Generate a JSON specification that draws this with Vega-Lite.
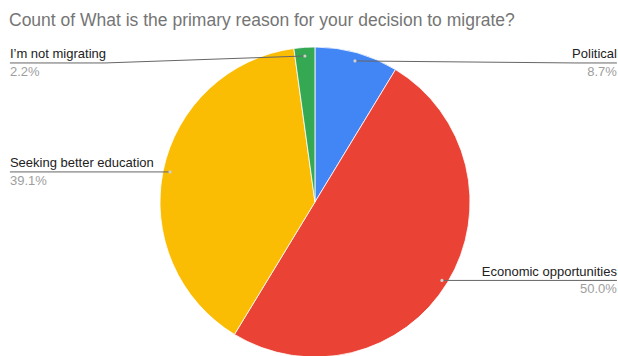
{
  "$schema": "https://vega.github.io/schema/vega-lite/v6.json",
  "width": 618,
  "height": 321,
  "autosize": {"type": "none"},
  "padding": {"top": 35, "left": 0, "right": 0, "bottom": 0},
  "background": "white",
  "config": {"view": {"stroke": null}, "font": "Liberation Sans"},
  "title": {
    "text": "Count of What is the primary reason for your decision to migrate?",
    "anchor": "start",
    "frame": "group",
    "dx": 9,
    "offset": 6,
    "fontSize": 17.5,
    "fontWeight": "normal",
    "color": "#757575",
    "font": "Liberation Sans"
  },
  "datasets": {
    "slices": [
      {"reason": "Political", "count": 4, "o": 1},
      {"reason": "Economic opportunities", "count": 23, "o": 2},
      {"reason": "Seeking better education", "count": 18, "o": 3},
      {"reason": "I’m not migrating", "count": 1, "o": 4}
    ],
    "labels": [
      {"reason": "Political", "pct": "8.7%", "side": "right", "tx": 1.948, "ty": 0.897, "ex": 1.677, "mx": 0.258, "my": 0.91},
      {"reason": "Economic opportunities", "pct": "50.0%", "side": "right", "tx": 1.948, "ty": -0.506, "ex": 0.819, "mx": 0.819, "my": -0.506},
      {"reason": "Seeking better education", "pct": "39.1%", "side": "left", "tx": -1.968, "ty": 0.194, "ex": -0.935, "mx": -0.935, "my": 0.194},
      {"reason": "I’m not migrating", "pct": "2.2%", "side": "left", "tx": -1.968, "ty": 0.897, "ex": -1.355, "mx": -0.065, "my": 0.942}
    ]
  },
  "layer": [
    {
      "data": {"name": "slices"},
      "mark": {"type": "arc", "radius": 155, "stroke": "#ffffff", "strokeWidth": 0.8},
      "encoding": {
        "theta": {"field": "count", "type": "quantitative", "stack": true},
        "order": {"field": "o", "type": "quantitative"},
        "color": {
          "field": "reason",
          "type": "nominal",
          "scale": {
            "domain": ["Political", "Economic opportunities", "Seeking better education", "I’m not migrating"],
            "range": ["#4285F4", "#EA4335", "#FBBC04", "#34A853"]
          },
          "legend": null
        },
        "x": {"datum": 0, "type": "quantitative", "scale": {"domain": [-2.032, 1.955], "nice": false, "zero": false}, "axis": null},
        "y": {"datum": 0, "type": "quantitative", "scale": {"domain": [-0.9935, 1.0774], "nice": false, "zero": false}, "axis": null}
      }
    },
    {
      "data": {"name": "labels"},
      "mark": {"type": "rule", "color": "#666666", "strokeWidth": 1},
      "encoding": {
        "x": {"field": "tx", "type": "quantitative", "scale": {"domain": [-2.032, 1.955], "nice": false, "zero": false}, "axis": null},
        "x2": {"field": "ex"},
        "y": {"field": "ty", "type": "quantitative", "scale": {"domain": [-0.9935, 1.0774], "nice": false, "zero": false}, "axis": null},
        "y2": {"field": "ty"}
      }
    },
    {
      "data": {"name": "labels"},
      "mark": {"type": "rule", "color": "#666666", "strokeWidth": 1},
      "encoding": {
        "x": {"field": "ex", "type": "quantitative"},
        "x2": {"field": "mx"},
        "y": {"field": "ty", "type": "quantitative"},
        "y2": {"field": "my"}
      }
    },
    {
      "data": {"name": "labels"},
      "mark": {"type": "point", "filled": true, "size": 10, "color": "#d0d0d0", "opacity": 1},
      "encoding": {
        "x": {"field": "mx", "type": "quantitative"},
        "y": {"field": "my", "type": "quantitative"}
      }
    },
    {
      "data": {"name": "labels"},
      "transform": [{"filter": "datum.side === 'left'"}],
      "mark": {"type": "text", "align": "left", "baseline": "alphabetic", "dy": -4.5, "fontSize": 13, "color": "#222222"},
      "encoding": {
        "x": {"field": "tx", "type": "quantitative"},
        "y": {"field": "ty", "type": "quantitative"},
        "text": {"field": "reason"}
      }
    },
    {
      "data": {"name": "labels"},
      "transform": [{"filter": "datum.side === 'left'"}],
      "mark": {"type": "text", "align": "left", "baseline": "alphabetic", "dy": 13, "fontSize": 13, "color": "#9e9e9e"},
      "encoding": {
        "x": {"field": "tx", "type": "quantitative"},
        "y": {"field": "ty", "type": "quantitative"},
        "text": {"field": "pct"}
      }
    },
    {
      "data": {"name": "labels"},
      "transform": [{"filter": "datum.side === 'right'"}],
      "mark": {"type": "text", "align": "right", "baseline": "alphabetic", "dy": -4.5, "fontSize": 13, "color": "#222222"},
      "encoding": {
        "x": {"field": "tx", "type": "quantitative"},
        "y": {"field": "ty", "type": "quantitative"},
        "text": {"field": "reason"}
      }
    },
    {
      "data": {"name": "labels"},
      "transform": [{"filter": "datum.side === 'right'"}],
      "mark": {"type": "text", "align": "right", "baseline": "alphabetic", "dy": 13, "fontSize": 13, "color": "#9e9e9e"},
      "encoding": {
        "x": {"field": "tx", "type": "quantitative"},
        "y": {"field": "ty", "type": "quantitative"},
        "text": {"field": "pct"}
      }
    }
  ]
}
